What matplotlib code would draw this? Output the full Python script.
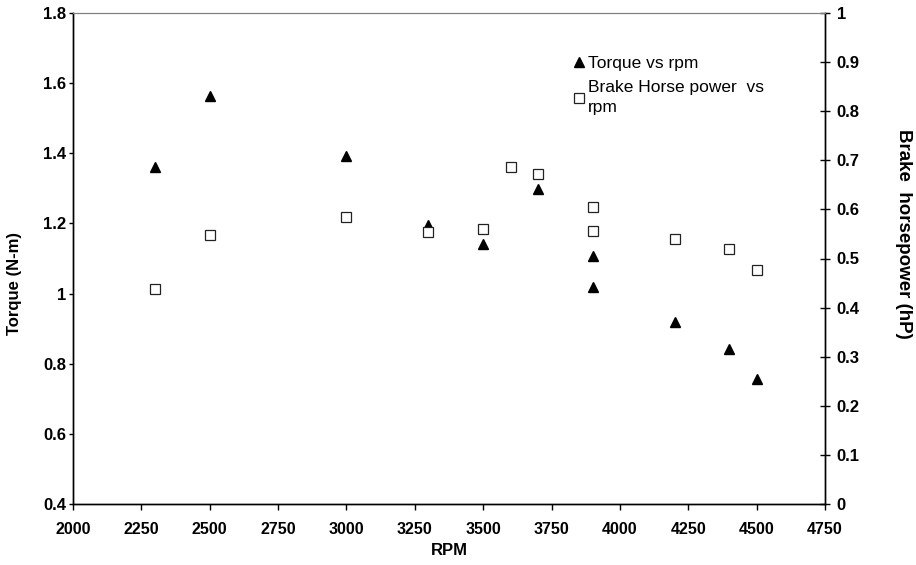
import matplotlib.pyplot as plt

plt.rcParams['font.family'] = ['Liberation Sans', 'DejaVu Sans']

# Torque vs rpm
rpm_torque = [2300, 2500, 3000, 3300, 3500, 3700, 3900, 3900, 4200, 4400, 4500]
torque = [1.36, 1.563, 1.393, 1.196, 1.14, 1.297, 1.108, 1.02, 0.918, 0.843, 0.755]

# Brake horse power vs rpm
rpm_bhp = [2300, 2500, 3000, 3300, 3500, 3600, 3700, 3900, 3900, 4200, 4400, 4500]
bhp = [0.4385, 0.547, 0.5845, 0.553, 0.56, 0.686, 0.673, 0.6055, 0.557, 0.54, 0.52, 0.4766]

x_ticks = [2000, 2250, 2500, 2750, 3000, 3250, 3500, 3750, 4000, 4250, 4500, 4750]
left_ticks = [0.4, 0.6, 0.8, 1.0, 1.2, 1.4, 1.6, 1.8]
right_ticks = [0, 0.1, 0.2, 0.3, 0.4, 0.5, 0.6, 0.7, 0.8, 0.9, 1.0]

fig = plt.figure(figsize=(9.16, 5.65), dpi=100)
ax = fig.add_axes([73 / 916, 1 - 504 / 565, (825 - 73) / 916, (504 - 13) / 565])
ax2 = ax.twinx()

l1, = ax.plot(rpm_torque, torque, linestyle='none', marker='^', markersize=6.5,
              color='black', label='Torque vs rpm')
l2, = ax2.plot(rpm_bhp, bhp, linestyle='none', marker='s', markersize=7.5,
               markerfacecolor='white', markeredgecolor='#222222', markeredgewidth=0.9,
               label='Brake Horse power  vs\nrpm')

ax.set_xlim(2000, 4750)
ax.set_ylim(0.4, 1.8)
ax2.set_ylim(0, 1)
ax.set_xticks(x_ticks)
ax.set_yticks(left_ticks)
ax2.set_yticks(right_ticks)
ax.set_yticklabels(['0.4', '0.6', '0.8', '1', '1.2', '1.4', '1.6', '1.8'])
ax2.set_yticklabels(['0', '0.1', '0.2', '0.3', '0.4', '0.5', '0.6', '0.7', '0.8', '0.9', '1'])

for a in (ax, ax2):
    a.spines['top'].set_color('#808080')
    a.spines['top'].set_linewidth(0.8)
    for s in ('left', 'right', 'bottom'):
        a.spines[s].set_color('black')
        a.spines[s].set_linewidth(1.0)
    for lab in a.get_xticklabels() + a.get_yticklabels():
        lab.set_fontweight('bold')

ax.tick_params(axis='y', labelsize=12, direction='out', length=3, width=1, pad=2)
ax.tick_params(axis='x', labelsize=11.5, direction='out', length=4, width=1, pad=9)
ax2.tick_params(axis='y', labelsize=12, direction='inout', length=7, width=1, pad=5)

ax.set_xlabel('RPM', fontsize=12, fontweight='bold', va='center')
ax.xaxis.set_label_coords(0.5, -0.094)
ax.set_ylabel('Torque (N-m)', fontsize=12, fontweight='bold')
ax.yaxis.set_label_coords(-0.068, 0.45)
ax2.set_ylabel('Brake  horsepower (hP)', fontsize=13.5, fontweight='bold',
               rotation=-90, va='center')
ax2.yaxis.set_label_coords(1.105, 0.55)

leg = ax.legend(handles=[l1, l2], loc='upper left', bbox_to_anchor=(0.655, 0.93),
                frameon=False, fontsize=12.5, handlelength=0.6, handletextpad=0.2,
                labelspacing=0.5, borderpad=0)
leg.get_texts()[1].set_linespacing(1.45)

fig.savefig('out.png', dpi=100)
